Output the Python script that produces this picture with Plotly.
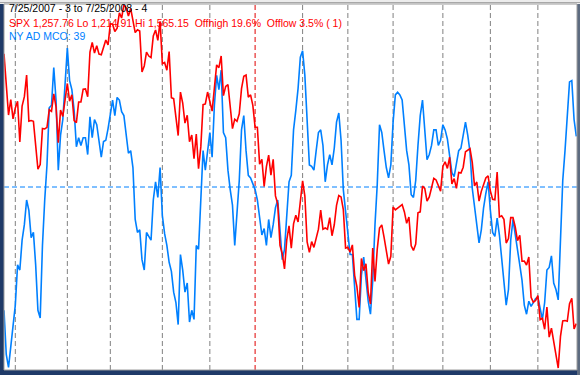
import pandas as pd
import plotly.graph_objects as go

# ---- data -------------------------------------------------------------
holidays = ["2007-09-03", "2007-11-22", "2007-12-25", "2008-01-01", "2008-01-21",
            "2008-02-18", "2008-03-21", "2008-05-26", "2008-07-04"]
start_date = "2007-07-25"
end_date = "2008-07-25"

spx = [
    1518.09, 1482.66, 1458.95, 1473.91, 1455.27,
    1465.81, 1472.20, 1433.06, 1467.67, 1476.71, 1497.49, 1453.09, 1453.64, 1452.92, 1426.54,
    1406.70, 1411.27, 1445.94, 1445.55, 1447.12, 1464.07, 1462.50, 1479.37, 1466.79, 1432.36,
    1463.76, 1457.64, 1473.99,
    1489.42, 1472.29, 1478.55, 1453.55, 1451.70, 1471.49, 1471.56, 1483.95, 1484.25, 1476.65,
    1519.78, 1529.03, 1518.75, 1525.75, 1517.73, 1517.21, 1525.42, 1531.38, 1526.75,
    1547.04, 1546.63, 1539.59, 1542.84, 1557.59, 1552.58, 1565.15, 1562.47, 1554.41, 1561.80,
    1548.71, 1538.53, 1541.24, 1540.08, 1500.63, 1506.33, 1519.59, 1515.88, 1514.40, 1535.28,
    1540.98, 1531.02, 1549.38,
    1508.44, 1509.65, 1502.17, 1520.27, 1475.62, 1474.77, 1453.70, 1439.18, 1481.05, 1470.58,
    1451.15, 1458.74, 1433.27, 1439.70, 1416.77, 1440.70, 1407.22, 1428.23, 1469.02, 1469.72,
    1481.14,
    1472.42, 1462.79, 1485.01, 1507.34, 1504.66, 1515.96, 1477.65, 1486.59, 1488.41, 1467.95,
    1445.90, 1454.98, 1453.00, 1460.12, 1484.46, 1496.45, 1497.66, 1476.27, 1478.49, 1468.36,
    1447.16, 1447.16, 1411.63, 1416.18, 1390.19, 1409.13, 1420.33, 1401.02, 1416.25, 1380.95,
    1373.20, 1333.25, 1325.19, 1310.50, 1338.60, 1352.07, 1330.61, 1353.96, 1362.30, 1355.81,
    1378.55,
    1395.42, 1380.82, 1336.64, 1326.45, 1336.91, 1331.29, 1339.13, 1348.86, 1367.21, 1348.86,
    1349.99, 1348.78, 1360.03, 1342.53, 1353.11, 1371.80, 1381.29, 1380.02, 1367.68, 1330.63,
    1331.34, 1326.75, 1333.70, 1304.34, 1293.37, 1273.37, 1320.65, 1308.77, 1315.48, 1288.14,
    1276.60, 1330.74, 1298.42, 1329.51, 1349.88, 1352.99, 1341.13, 1325.76, 1315.22, 1322.70,
    1370.18, 1367.53, 1369.31, 1370.40, 1372.54, 1365.54, 1354.49, 1360.55, 1332.83, 1328.32,
    1334.43, 1364.71, 1365.56, 1390.33, 1388.17, 1375.94, 1379.93, 1388.82, 1397.84, 1396.37,
    1390.94, 1385.59,
    1409.34, 1413.90, 1407.49, 1418.26, 1392.57, 1397.68, 1388.28, 1403.58, 1403.04, 1408.66,
    1423.57, 1425.35, 1426.63, 1413.40, 1390.71, 1394.35, 1375.93, 1385.35, 1390.84, 1398.26,
    1400.38,
    1385.67, 1377.65, 1377.20, 1404.05, 1360.68, 1361.76, 1358.44, 1335.49, 1339.87, 1360.03,
    1360.14, 1350.93, 1337.81, 1342.83, 1317.93, 1318.00, 1314.29, 1321.97, 1283.15, 1278.38,
    1280.00,
    1284.91, 1261.52, 1262.90, 1252.31, 1273.70, 1244.69, 1253.39, 1239.49, 1228.30, 1214.91,
    1245.36, 1260.32, 1260.68, 1260.00, 1277.00, 1282.19, 1252.54, 1257.76,
]

mco = [
    -95, -129, -139, -124, -106, -91, -60, -64, -41, -29,
    -10, -18, -39, -35, -60, -95, -101, -45, -10, 17,
    61, 63, 92, 67, 13, 40, 52, 82, 107, 82,
    75, 59, 31, 38, 32, 38, 38, 25, 54, 38,
    52, 48, 36, 23, 35, 36, 45, 57, 67, 55,
    69, 67, 58, 55, 38, 26, 28, 15, -25, -35,
    -33, -56, -64, -35, -38, -41, -10, 4, -8, 15,
    -22, -36, -45, -58, -65, -81, -89, -106, -52, -64,
    -81, -74, -104, -95, -102, -45, -48, -6, 28, 13,
    28, 42, 23, 63, 86, 75, 90, 42, 38, 13,
    -2, -14, -45, -18, 5, 44, 55, 28, 9, 7,
    2, -2, -10, -25, -37, -32, -45, -25, -39, -29,
    -16, -10, -37, -56, -48, -25, 4, 9, 44, 59,
    76, 100, 105, 86, 52, 17, 16, 13, 28, 42,
    44, 32, 4, 17, 25, 17, 30, 50, 57, 36,
    -2, -18, -33, -52, -52, -75, -102, -102, -68, -54,
    -70, -88, -98, -72, -29, 2, 48, 42, 28, 15,
    7, 17, 50, 71, 73, 71, 67, 45, 28, 17,
    -6, -8, 5, 32, 55, 67, 44, 21, 25, 32,
    44, 44, 32, 36, 48, 44, 37, 22, 11, 8,
    17, 28, 30, 40, 50, 40, 27, -1, -16, -32,
    -43, -33, -16, -5, 4, -18, -35, -38, -24, -37,
    -55, -73, -91, -79, -41, -25, -38, -48, -60, -72,
    -91, -98, -88, -92, -89, -86, -85, -95, -102, -89,
    -64, -62, -53, -74, -79, -87, -45, 5, 28, 55,
    81, 82, 52, 39,
]

title_text = "7/25/2007 - 3 to 7/25/2008 - 4"
spx_text = "SPX 1,257.76 Lo 1,214.91 Hi 1,565.15  Offhigh 19.6%  Offlow 3.5% ( 1)"
mco_text = "NY AD MCO: 39"

# ---- trading calendar ------------------------------------------------
bday = pd.offsets.CustomBusinessDay(holidays=holidays)
dates = pd.date_range(start_date, end_date, freq=bday)
n = min(len(dates), len(spx), len(mco))
days = list(range(n))

RED = "#ff0000"
BLUE = "#0080ff"

fig = go.Figure()
fig.add_trace(go.Scatter(x=days, y=mco[:n], mode="lines", yaxis="y",
                         line=dict(color=BLUE, width=1.6), hoverinfo="skip"))
fig.add_trace(go.Scatter(x=days, y=spx[:n], mode="lines", yaxis="y2",
                         line=dict(color=RED, width=1.6), hoverinfo="skip"))

shapes = []
for i in range(1, n):
    if dates[i].month != dates[i - 1].month:
        col = "#e00000" if dates[i].year != dates[i - 1].year else "#808080"
        shapes.append(dict(type="line", xref="x", yref="paper", x0=i, x1=i, y0=0, y1=1,
                           line=dict(color=col, width=1, dash="5px,3px"), layer="below"))
# zero line of the oscillator
shapes.append(dict(type="line", xref="paper", yref="y", x0=0, x1=1, y0=0, y1=0,
                   line=dict(color=BLUE, width=1, dash="5px,3px"), layer="below"))
# window frame pieces
W, H = 580, 375
ml, mr, mt, mb = 4, 3, 4, 5
pw, ph = W - ml - mr, H - mt - mb
shapes.append(dict(type="rect", xref="paper", yref="paper",
                   x0=-ml / pw, x1=1 + mr / pw, y0=1, y1=1 + mt / ph,
                   fillcolor="#ececec", line=dict(width=0), layer="below"))
shapes.append(dict(type="line", xref="paper", yref="paper",
                   x0=-ml / pw, x1=1 + mr / pw, y0=1 + 1.5 / ph, y1=1 + 1.5 / ph,
                   line=dict(color="#a8a8a8", width=1)))
shapes.append(dict(type="rect", xref="paper", yref="paper",
                   x0=1, x1=1 + mr / pw, y0=-mb / ph, y1=1,
                   fillcolor="#5d6b80", line=dict(width=0), layer="below"))
shapes.append(dict(type="rect", xref="paper", yref="paper", x0=0, x1=1, y0=0, y1=1,
                   line=dict(color="#9c9c9c", width=1)))

def ann(text, ypx, color):
    return dict(text=text, xref="paper", yref="paper", x=(7 - ml) / pw,
                y=1 - (ypx - mt) / ph, xanchor="left", yanchor="middle", showarrow=False,
                font=dict(family="Liberation Sans, Arial, sans-serif", size=10.5, color=color))

fig.update_layout(
    width=W, height=H,
    margin=dict(l=ml, r=mr, t=mt, b=mb, pad=0),
    paper_bgcolor="#1f3a68",
    plot_bgcolor="#ffffff",
    showlegend=False,
    xaxis=dict(range=[0, n - 0.7], visible=False, fixedrange=True),
    yaxis=dict(range=[-141, 141], visible=False, fixedrange=True),
    yaxis2=dict(range=[1213.0, 1566.1], visible=False, overlaying="y", fixedrange=True),
    shapes=shapes,
    annotations=[ann(title_text, 8.5, "#000000"), ann(spx_text, 22.5, RED),
                 ann(mco_text, 35.5, BLUE)],
)

fig.write_html("out.html", config={"displayModeBar": False},
               post_script="document.body.style.margin='0';document.body.style.overflow='hidden';")
